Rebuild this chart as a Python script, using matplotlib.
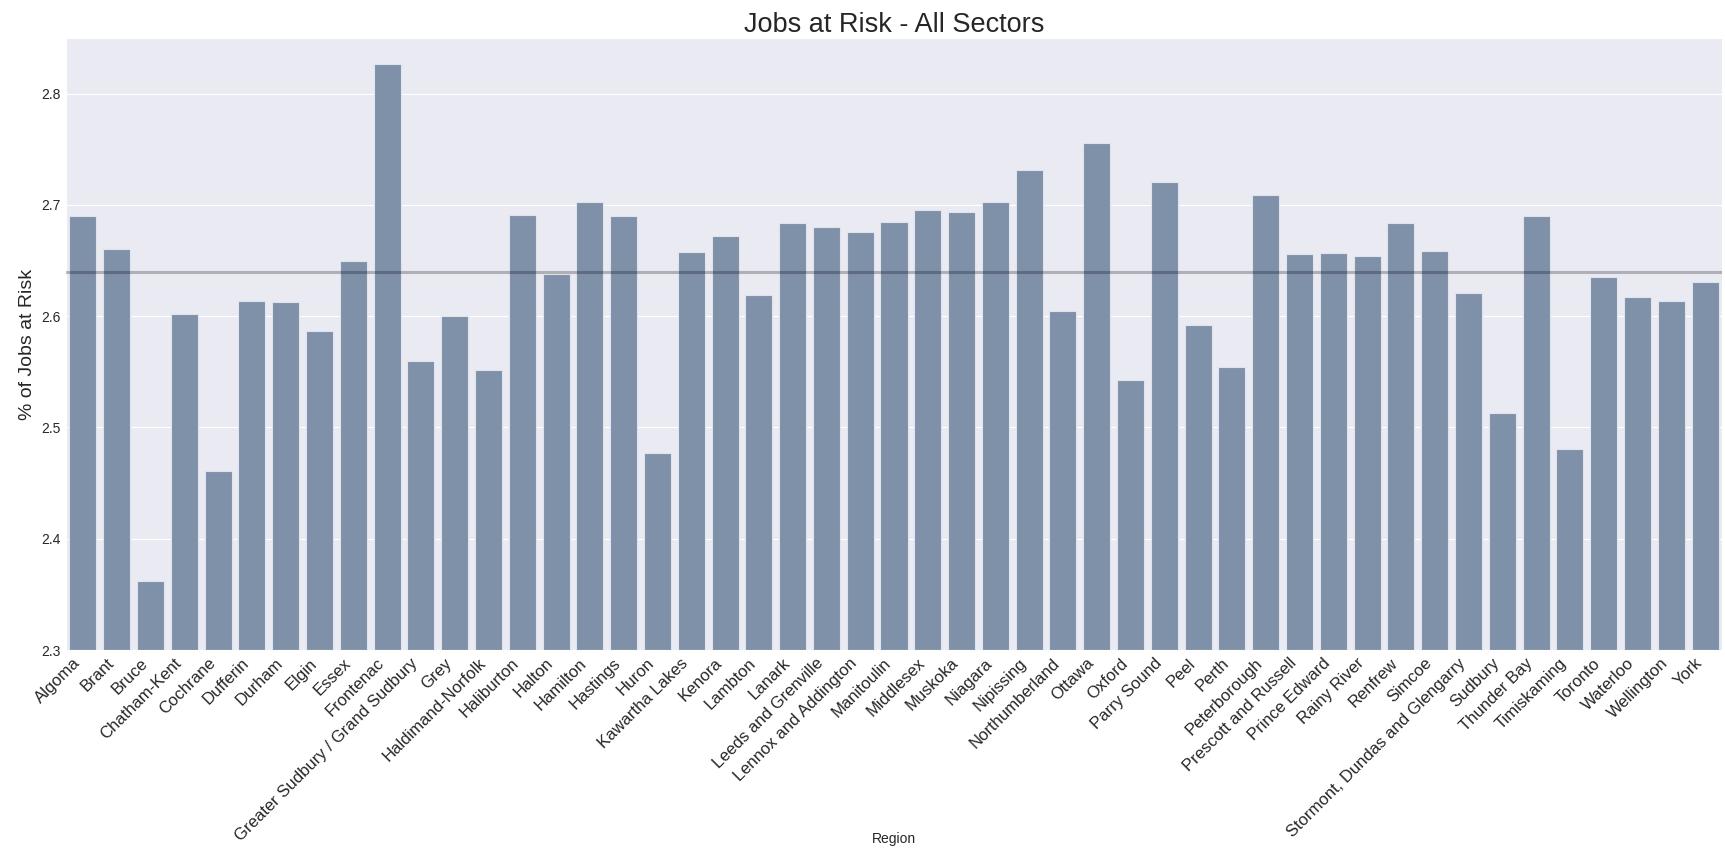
import matplotlib
matplotlib.use("Agg")
import matplotlib.pyplot as plt
import seaborn as sns
import numpy as np

regions = [
    "Algoma", "Brant", "Bruce", "Chatham-Kent", "Cochrane", "Dufferin", "Durham",
    "Elgin", "Essex", "Frontenac", "Greater Sudbury / Grand Sudbury", "Grey",
    "Haldimand-Norfolk", "Haliburton", "Halton", "Hamilton", "Hastings", "Huron",
    "Kawartha Lakes", "Kenora", "Lambton", "Lanark", "Leeds and Grenville",
    "Lennox and Addington", "Manitoulin", "Middlesex", "Muskoka", "Niagara",
    "Nipissing", "Northumberland", "Ottawa", "Oxford", "Parry Sound", "Peel",
    "Perth", "Peterborough", "Prescott and Russell", "Prince Edward",
    "Rainy River", "Renfrew", "Simcoe", "Stormont, Dundas and Glengarry",
    "Sudbury", "Thunder Bay", "Timiskaming", "Toronto", "Waterloo",
    "Wellington", "York",
]
jobs_at_risk = [
    2.690, 2.660, 2.362, 2.602, 2.461, 2.614, 2.613,
    2.587, 2.650, 2.827, 2.560, 2.600,
    2.552, 2.691, 2.638, 2.703, 2.690, 2.477,
    2.658, 2.672, 2.619, 2.684, 2.680,
    2.676, 2.685, 2.695, 2.694, 2.703,
    2.731, 2.605, 2.756, 2.543, 2.721, 2.592,
    2.554, 2.709, 2.656, 2.657,
    2.654, 2.684, 2.659, 2.621,
    2.513, 2.690, 2.481, 2.635, 2.617,
    2.614, 2.631,
]
mean_value = 2.640
y_ticks = [2.3, 2.4, 2.5, 2.6, 2.7, 2.8]

sns.set_style("darkgrid")
plt.rcParams["font.family"] = ["Liberation Sans", "DejaVu Sans"]

fig = plt.figure(figsize=(17.25, 8.5), dpi=100)
ax = fig.add_axes([66 / 1725, 200 / 850, 1656 / 1725, 612 / 850])

x = np.arange(len(regions))
ax.bar(x, jobs_at_risk, width=0.8, color="#7f90a9", edgecolor="#dfe3ec",
       linewidth=0.8, zorder=2)
ax.axhline(mean_value, color="black", alpha=0.25, linewidth=2.2, zorder=3)

ax.set_xlim(-0.5, len(regions) - 0.5)
ax.set_ylim(2.3, 2.85)
ax.set_yticks(y_ticks)
ax.set_yticklabels([f"{t:.1f}" for t in y_ticks], fontsize=10, color="#262626")
ax.set_xticks(x)
ax.set_xticklabels(regions, rotation=45, ha="right", fontsize=12, color="#262626")
ax.tick_params(axis="both", length=0, pad=4)
ax.grid(axis="x", visible=False)

ax.set_title("Jobs at Risk - All Sectors", fontsize=19.5, color="#262626", pad=4)
ax.set_ylabel("% of Jobs at Risk", fontsize=14, color="#262626")
ax.set_xlabel("Region", fontsize=10, color="#262626")
ax.xaxis.set_label_coords(0.5, -0.297)

fig.savefig("out.png", dpi=100)
